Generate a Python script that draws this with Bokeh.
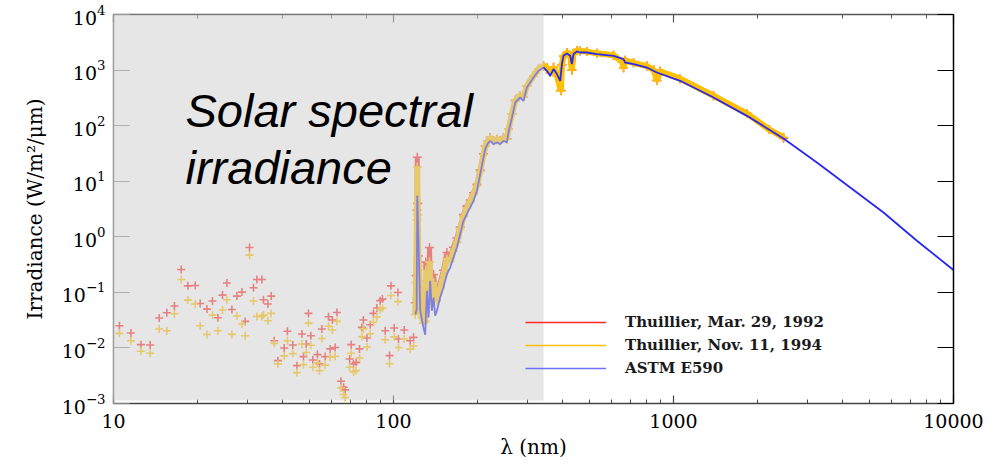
from bokeh.plotting import figure
from bokeh.models import (ColumnDataSource, LogAxis, FixedTicker, LogTicker, CustomJSTickFormatter,
                          BoxAnnotation, Label, Legend, LegendItem)
from bokeh.embed import file_html
from bokeh.resources import INLINE

# ---------------- data ----------------
# EUV points, Thuillier 1992 (red) and 1994 (yellow)
euv_wl = [10.5, 11.54, 12.53, 13.52, 14.56, 15.51, 16.51, 17.45, 18.44, 19.58,
          20.4, 21.56, 22.57, 23.6, 24.51, 25.41, 26.48, 27.59, 28.75, 29.54,
          30.6, 31.62, 32.52, 33.88, 34.33, 35.6, 36.58, 37.5, 38.65,
          40.7, 41.8, 43.7, 45.2, 47.1, 47.7, 48.8, 49.7, 50.7, 51.5,
          53.5, 54.4, 55.5, 57.0, 58.6, 59.4, 60.5, 61.9, 62.8, 64.9,
          66.3, 67.2, 69.7, 70.6, 72.0, 73.6, 75.6, 77.1, 78.1, 80.4,
          82.6, 84.8, 87.2, 89.6, 91.3, 93.4, 96.8, 97.9, 100.6, 103.7,
          104.2, 109.2, 114.7, 117.9]
euv_1992 = [0.0251, 0.0186, 0.01146, 0.0113, 0.0345, 0.043, 0.0568, 0.2576, 0.131, 0.133,
            0.063, 0.050, 0.0697, 0.035, 0.0893, 0.147, 0.0493, 0.0857, 0.101, 0.030,
            0.64, 0.121, 0.170, 0.170, 0.0736, 0.0617, 0.0857, 0.0135, 0.0059,
            0.0100, 0.0199, 0.0113, 0.0048, 0.0178, 0.00698, 0.0118, 0.0418, 0.0166, 0.00608,
            0.00758, 0.00516, 0.0219, 0.00698, 0.0365, 0.0096, 0.0318, 0.0102, 0.0435, 0.00251,
            0.00196, 0.00176, 0.00634, 0.01146, 0.00516, 0.0055, 0.0096, 0.0234, 0.0318, 0.0151,
            0.0262, 0.0418, 0.0522, 0.0706, 0.0757, 0.0204, 0.00727, 0.131, 0.0229, 0.0995,
            0.0145, 0.021, 0.0135, 0.0155]
euv_1994 = [0.0183, 0.0135, 0.00869, 0.0080, 0.0219, 0.0204, 0.0413, 0.170, 0.0726, 0.0617,
            0.0251, 0.0175, 0.039, 0.0204, 0.048, 0.0736, 0.0175, 0.0375, 0.027, 0.0166,
            0.467, 0.0697, 0.0369, 0.0369, 0.039, 0.0309, 0.0418, 0.0121, 0.00516,
            0.0072, 0.0135, 0.0079, 0.0036, 0.0118, 0.0050, 0.0083, 0.028, 0.0112, 0.0045,
            0.0054, 0.0039, 0.0148, 0.0049, 0.0245, 0.0068, 0.021, 0.0071, 0.030, 0.0019,
            0.00145, 0.00128, 0.0045, 0.0080, 0.0037, 0.0039, 0.0066, 0.0160, 0.022, 0.0104,
            0.018, 0.029, 0.036, 0.049, 0.052, 0.0140, 0.0052, 0.088, 0.0158, 0.068,
            0.0102, 0.0145, 0.0095, 0.0108]

# Thuillier spectra, UV to near IR
thu_wl = [119.5, 120.5, 121.2, 121.6, 122.0, 122.8, 124.6, 126.5, 127.9, 129.8,
          130.4, 131.6, 133.4, 134.5, 135.2, 137.1, 139.0, 140.9, 142.9, 146.8,
          150.8, 155.1, 159.4, 163.8, 168.4, 173.1, 177.8, 182.8, 187.9, 193.1,
          198.6, 204.0, 209.6, 212.6, 216.6, 221.5, 227.6, 234.0, 240.5, 247.1,
          254.1, 257.4, 264.8, 272.1, 283.5, 291.3, 299.5, 316.2, 329.5, 343.4,
          353.1, 362.8, 372.8, 383.4, 396.0, 399.4, 404.7, 416.2, 427.6, 433.6,
          439.4, 451.9, 464.3, 490.6, 532.6, 610.6, 656.0, 663.0, 672.0, 720.0,
          804.0, 850.0, 872.0, 895.0, 1056.0, 1390.0, 1829.0, 2200.0, 2471.0]
thu_1994 = [0.04, 0.15, 2.0, 18.0, 2.5, 0.3, 0.05, 0.035, 0.028, 0.03,
            0.25, 0.12, 0.06, 0.35, 0.15, 0.08, 0.15, 0.08, 0.07, 0.12,
            0.2, 0.4, 0.36, 0.55, 0.8, 1.35, 2.3, 3.3, 4.3, 5.8,
            8.3, 15.0, 30.0, 42.0, 52.0, 60.0, 53.0, 56.0, 53.0, 60.0,
            57.0, 85.0, 160.0, 280.0, 350.0, 330.0, 520.0, 790.0, 1050.0, 1180.0,
            1100.0, 900.0, 1120.0, 800.0, 420.0, 1250.0, 1800.0, 2050.0, 1850.0, 1000.0,
            2000.0, 2250.0, 2200.0, 2150.0, 2000.0, 1850.0, 1400.0, 1100.0, 1500.0, 1350.0,
            1180.0, 1000.0, 650.0, 950.0, 700.0, 345.0, 165.0, 85.0, 62.0]
thu_1992 = [0.065, 0.2, 3.0, 27.0, 4.0, 0.45, 0.07, 0.05, 0.04, 0.045,
            0.35, 0.16, 0.08, 0.64, 0.2, 0.1, 0.21, 0.1, 0.09, 0.15,
            0.25, 0.52, 0.42, 0.65, 0.95, 1.5, 2.5, 3.6, 4.6, 6.2,
            8.8, 16.0, 31.0, 43.0, 53.0, 61.0, 54.0, 57.0, 54.0, 61.0,
            58.0, 86.0, 160.0, 285.0, 350.0, 330.0, 520.0, 790.0, 1050.0, 1180.0,
            1100.0, 900.0, 1120.0, 800.0, 430.0, 1250.0, 1800.0, 2050.0, 1850.0, 1000.0,
            2000.0, 2250.0, 2200.0, 2150.0, 2000.0, 1850.0, 1400.0, 1100.0, 1500.0, 1350.0,
            1180.0, 1000.0, 650.0, 950.0, 700.0, 345.0, 165.0, 85.0, 60.0]

# ASTM E590 reference spectrum
astm_wl = [119.8, 121.0, 121.6, 122.8, 124.6, 127.9, 129.8, 131.6, 133.4, 135.2,
           137.1, 139.0, 140.9, 142.9, 146.8, 150.8, 155.1, 159.4, 163.8, 168.4,
           173.1, 177.8, 182.8, 187.9, 193.1, 198.6, 204.0, 209.6, 212.6, 216.6,
           221.5, 227.6, 234.0, 240.5, 247.1, 254.1, 257.4, 264.8, 272.1, 283.5,
           291.3, 299.5, 316.2, 329.5, 343.4, 353.1, 362.8, 372.8, 383.4, 393.9,
           399.4, 404.7, 416.2, 427.6, 433.6, 439.4, 451.9, 464.3, 490.6, 532.6,
           610.6, 663.0, 672.0, 720.0, 804.0, 872.0, 1056.0, 1390.0, 1829.0, 2471.0,
           3252.0, 4277.0, 5623.0, 7402.0, 10000.0]
astm_val = [0.04, 0.05, 5.47, 0.85, 0.0466, 0.0233, 0.0172, 0.1067, 0.0353, 0.1615,
            0.0466, 0.0808, 0.0379, 0.0466, 0.0808, 0.1224, 0.213, 0.28, 0.424, 0.641,
            1.12, 1.94, 2.56, 3.37, 4.44, 6.73, 13.4, 26.7, 37.8, 46.6,
            53.4, 46.6, 49.8, 46.6, 53.4, 49.8, 75.3, 140.0, 261.0, 321.0,
            280.0, 486.0, 735.0, 971.0, 1112.0, 971.0, 789.0, 1042.0, 847.0, 641.0,
            1282.0, 1807.0, 1987.0, 1807.0, 1282.0, 1940.0, 2160.0, 2072.0, 2072.0, 1940.0,
            1807.0, 1577.0, 1369.0, 1282.0, 1112.0, 904.0, 641.0, 321.0, 150.0, 58.7,
            21.7, 7.71, 2.74, 0.848, 0.252]

x_ticks = [10, 100, 1000, 10000]
y_ticks = [1e-3, 1e-2, 1e-1, 1e0, 1e1, 1e2, 1e3, 1e4]
series_labels = ["Thuillier, Mar. 29, 1992", "Thuillier, Nov. 11, 1994", "ASTM E590"]

RED = "#ff2a2a"
YEL = "#ffc000"
BLUE = "#2828f0"
SERIF = "DejaVu Serif"

# ---------------- figure ----------------
p = figure(width=1007, height=465, x_axis_type="log", y_axis_type="log",
           x_range=(x_ticks[0], x_ticks[-1]), y_range=(y_ticks[0], y_ticks[-1]),
           output_backend="svg", toolbar_location=None,
           min_border_left=113, min_border_right=54, min_border_top=14, min_border_bottom=62,
           background_fill_color="white", border_fill_color="white")
p.outline_line_color = None
p.grid.visible = False

euv_src = ColumnDataSource(dict(wl=euv_wl, r=euv_1992, y=euv_1994))
thu_src = ColumnDataSource(dict(wl=thu_wl, r=thu_1992, y=thu_1994))
astm_src = ColumnDataSource(dict(wl=astm_wl, v=astm_val))

p.scatter("wl", "r", source=euv_src, marker="cross", size=8, line_width=1.6, line_color=RED)
p.scatter("wl", "y", source=euv_src, marker="cross", size=8, line_width=1.6, line_color=YEL)
p.line("wl", "r", source=thu_src, line_color=RED, line_width=5)
p.scatter("wl", "r", source=thu_src, marker="cross", size=9, line_width=1.6, line_color=RED)
p.line("wl", "y", source=thu_src, line_color=YEL, line_width=6)
p.scatter("wl", "y", source=thu_src, marker="cross", size=9, line_width=1.6, line_color=YEL)
p.line("wl", "v", source=astm_src, line_color=BLUE, line_width=1.8)

# legend-only renderers (a single undefined point: nothing is drawn in the plot)
nan = float("nan")
leg_src = ColumnDataSource(dict(x=[nan], y=[nan]))
l1 = p.line("x", "y", source=leg_src, line_color=RED, line_width=1.5)
l2 = p.line("x", "y", source=leg_src, line_color=YEL, line_width=1.5)
l3 = p.line("x", "y", source=leg_src, line_color="#7070ff", line_width=1.5)
legend = Legend(items=[LegendItem(label=series_labels[0], renderers=[l1], index=0),
                       LegendItem(label=series_labels[1], renderers=[l2], index=0),
                       LegendItem(label=series_labels[2], renderers=[l3], index=0)],
                location=(412, 25), glyph_width=81, glyph_height=20, label_height=20,
                spacing=3, padding=0, margin=0, label_standoff=19,
                border_line_color=None, background_fill_alpha=0,
                label_text_font=SERIF, label_text_font_style="bold",
                label_text_font_size="15px", label_text_color="#1a1a1a")
p.add_layout(legend)

# ---------------- axes ----------------
def style(ax, major_in, minor_in, color="black"):
    ax.axis_line_color = color
    ax.axis_line_width = 1.5
    ax.major_tick_line_color = color
    ax.minor_tick_line_color = color
    ax.major_tick_in = major_in
    ax.major_tick_out = 0
    ax.minor_tick_in = minor_in
    ax.minor_tick_out = 0
    ax.major_tick_line_width = 1.2
    ax.minor_tick_line_width = 1.0
    ax.major_label_text_font = SERIF
    ax.major_label_text_font_size = "19px"
    ax.major_label_text_color = "black"
    ax.axis_label_text_font = SERIF
    ax.axis_label_text_font_size = "20px"
    ax.axis_label_text_font_style = "normal"
    ax.axis_label_text_color = "black"

xa = p.xaxis[0]
style(xa, 8, 4, "#444444")
xa.formatter = CustomJSTickFormatter(code="return Math.round(tick).toString();")
xa.major_label_standoff = 10
xa.axis_label = "λ (nm)"
xa.axis_label_standoff = 4

ya = p.yaxis[0]
style(ya, 16, 0, "#8a8a8a")
ya.ticker = FixedTicker(ticks=y_ticks)
ya.major_label_standoff = 8
ya.axis_label = "Irradiance (W/m²/μm)"
ya.axis_label_standoff = 12

top = LogAxis(ticker=LogTicker(), formatter=CustomJSTickFormatter(code="return '';"))
style(top, 8, 4, "#555555")
p.add_layout(top, "above")
right = LogAxis(ticker=FixedTicker(ticks=y_ticks), formatter=CustomJSTickFormatter(code="return '';"))
style(right, 16, 0)
p.add_layout(right, "right")

# ---------------- highlight panel and title ----------------
shade = BoxAnnotation(left=-7, right=430, bottom=3, top=394,
                      left_units="screen", right_units="screen",
                      bottom_units="screen", top_units="screen",
                      fill_color="#cfcfcf", fill_alpha=0.53, line_color=None, level="overlay")
p.add_layout(shade)

for txt, yy in (("Solar spectral", 293), ("irradiance", 236)):
    p.add_layout(Label(x=72, y=yy, x_units="screen", y_units="screen", text=txt,
                       text_font="Liberation Sans", text_font_style="italic",
                       text_font_size="47px", text_color="black",
                       text_baseline="alphabetic", level="overlay"))

open("out.html", "w").write(file_html(p, INLINE))
